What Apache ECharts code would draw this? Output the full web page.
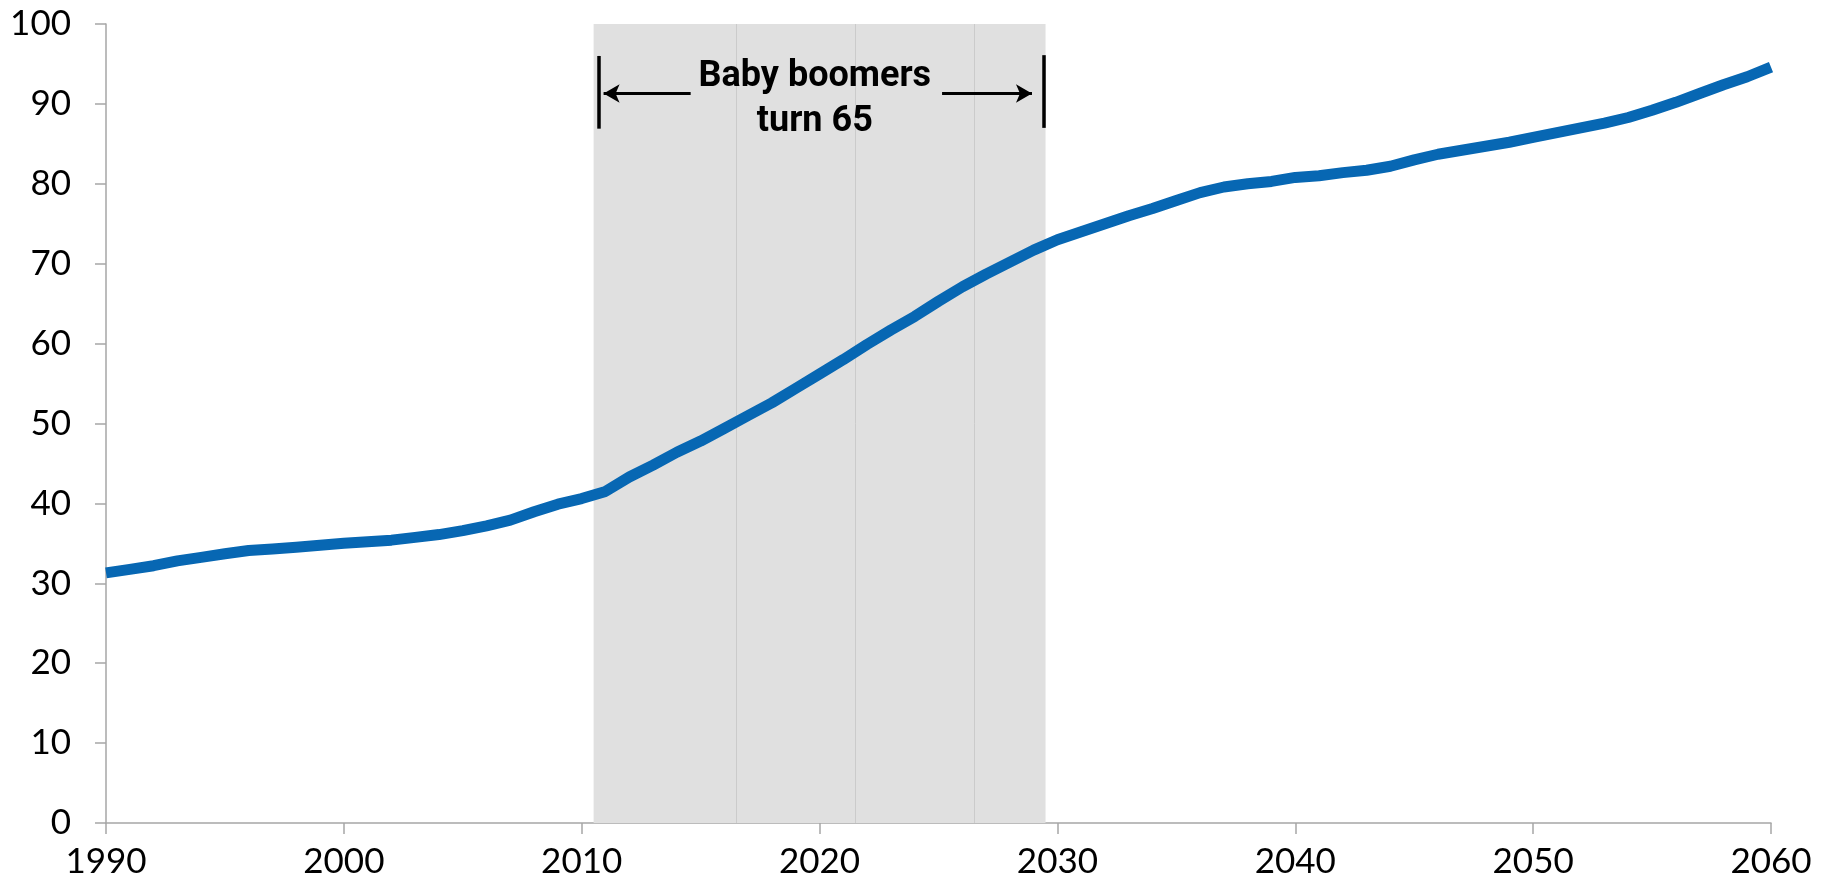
<!DOCTYPE html>
<html>
<head>
<meta charset="utf-8">
<script src="https://cdn.jsdelivr.net/npm/echarts@6/dist/echarts.min.js"></script>
<style>
html,body{margin:0;padding:0;background:#fff;}
#chart{width:1833px;height:886px;}
</style>
</head>
<body>
<div id="chart"></div>
<script>
const years = [1990,1991,1992,1993,1994,1995,1996,1997,1998,1999,
  2000,2001,2002,2003,2004,2005,2006,2007,2008,2009,
  2010,2011,2012,2013,2014,2015,2016,2017,2018,2019,
  2020,2021,2022,2023,2024,2025,2026,2027,2028,2029,
  2030,2031,2032,2033,2034,2035,2036,2037,2038,2039,
  2040,2041,2042,2043,2044,2045,2046,2047,2048,2049,
  2050,2051,2052,2053,2054,2055,2056,2057,2058,2059,2060];
const values = [31.3,31.75,32.2,32.8,33.25,33.7,34.1,34.3,34.5,34.75,
  35.0,35.2,35.4,35.75,36.1,36.6,37.2,37.9,38.95,39.9,
  40.6,41.5,43.3,44.8,46.4,47.8,49.4,51.0,52.6,54.4,
  56.2,58.0,59.9,61.7,63.4,65.3,67.1,68.7,70.2,71.7,
  73.0,74.0,75.0,76.0,76.9,77.9,78.9,79.6,80.0,80.3,
  80.8,81.0,81.4,81.7,82.2,83.0,83.7,84.2,84.7,85.2,
  85.8,86.4,87.0,87.6,88.3,89.2,90.2,91.3,92.4,93.4,94.6];
const xTicks = {min:1990, max:2060, interval:10};
const yTicks = {min:0, max:100, interval:10};
const shadeRange = [2010.5, 2029.5];
const shadeDividers = [2016.5, 2021.5, 2026.5];
const annotationText = 'Baby boomers\nturn 65';
const annotationPos = [2019.8, 90.6];
const bracketBars = [[2010.73, 96.0, 86.9],[2029.41, 96.1, 87.0]];
const arrows = [[[2014.58, 91.3],[2010.92, 91.3]], [[2025.15, 91.3],[2028.93, 91.3]]];

const chart = echarts.init(document.getElementById('chart'));
const axisGray = '#a6a6a6';
const tickFont = {fontFamily:'Lato, "Noto Sans", sans-serif', fontSize:35, color:'#000'};

chart.setOption({
  animation:false,
  grid:{left:106, right:62, top:24, bottom:63, containLabel:false},
  xAxis:{type:'value', min:xTicks.min, max:xTicks.max, interval:xTicks.interval,
    axisLine:{show:true, lineStyle:{color:axisGray, width:1.5}},
    axisTick:{show:true, inside:false, length:11, lineStyle:{color:axisGray, width:1.5}},
    splitLine:{show:false},
    axisLabel:Object.assign({margin:21, formatter:v=>String(v)}, tickFont)},
  yAxis:{type:'value', min:yTicks.min, max:yTicks.max, interval:yTicks.interval,
    axisLine:{show:true, lineStyle:{color:axisGray, width:1.5}},
    axisTick:{show:true, inside:false, length:11, lineStyle:{color:axisGray, width:1.5}},
    splitLine:{show:false},
    axisLabel:Object.assign({margin:35}, tickFont)},
  series:[
    {type:'line', name:'shade', data:[], z:1, silent:true,
      markArea:{silent:true, z:1, itemStyle:{color:'#e0e0e0'}, data:[[{xAxis:shadeRange[0]},{xAxis:shadeRange[1]}]]},
      markLine:{silent:true, z:1, symbol:['none','none'], label:{show:false},
        lineStyle:{color:'#cbcbcb', width:1, type:'solid'},
        data:shadeDividers.map(x=>({xAxis:x}))}
    },
    {type:'line', name:'main', z:3, showSymbol:false, symbol:'none', smooth:false,
      lineStyle:{color:'#0767b3', width:11, cap:'butt', join:'round'},
      data:years.map((y,i)=>[y, values[i]])},
    {type:'line', name:'annot', data:[], z:5, silent:true,
      markLine:{silent:true, z:6, symbol:['none','none'], label:{show:false},
        lineStyle:{color:'#000', width:3.5, type:'solid'},
        data:bracketBars.map(b=>[{coord:[b[0],b[1]]},{coord:[b[0],b[2]]}])},
      markPoint:{silent:true, z:6, symbol:'circle', symbolSize:1, itemStyle:{color:'rgba(0,0,0,0)'},
        label:{show:true, position:'inside', formatter:annotationText, color:'#000',
          fontFamily:'Roboto, "Noto Sans", sans-serif',
          fontWeight:'bold', fontSize:36, lineHeight:45, align:'center', verticalAlign:'middle'},
        data:[{coord:annotationPos}]}
    },
    {type:'line', name:'arrows', data:[], z:5, silent:true,
      markLine:{silent:true, z:6, symbol:['none','arrow'], symbolSize:[14,16], label:{show:false},
        lineStyle:{color:'#000', width:3, type:'solid'},
        data:arrows.map(a=>[{coord:a[0]},{coord:a[1]}])}
    }
  ]
});
</script>
</body>
</html>
